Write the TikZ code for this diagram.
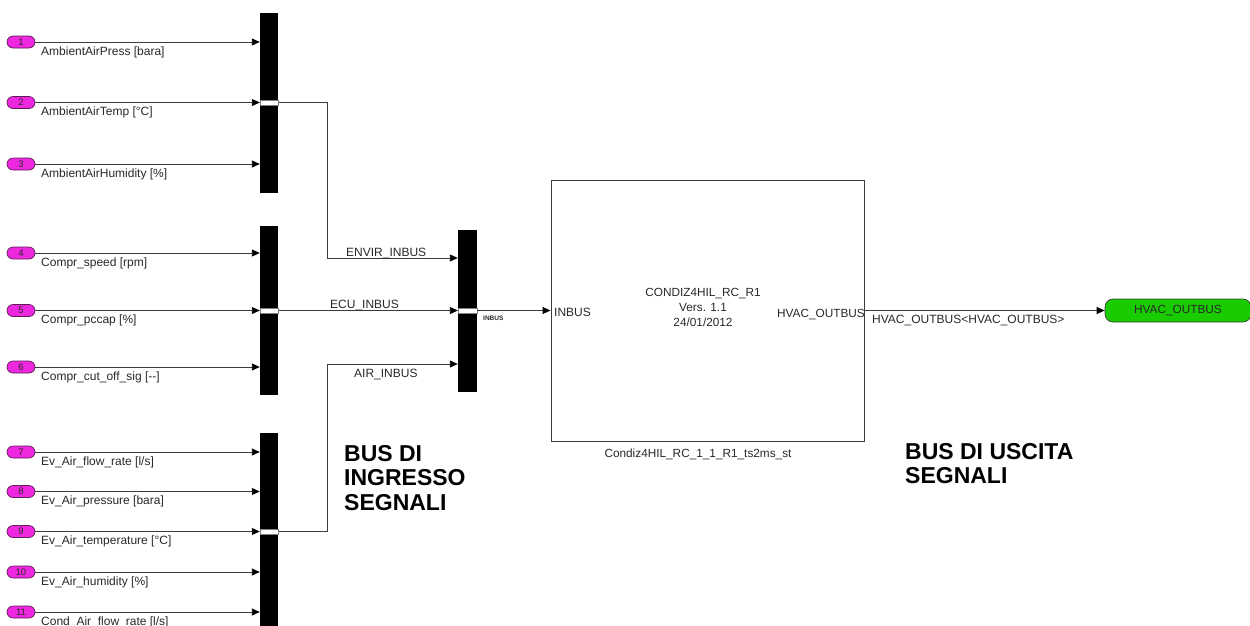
\documentclass[tikz,border=0pt]{standalone}
\usepackage{fontspec}
\setmainfont{Liberation Sans}
\usetikzlibrary{arrows.meta}
\definecolor{inportfill}{RGB}{238,40,222}
\definecolor{inportedge}{RGB}{90,30,85}
\definecolor{gotofill}{RGB}{24,204,0}
\definecolor{wirecol}{RGB}{60,60,60}
\definecolor{txt}{RGB}{40,40,40}
\begin{document}
\begin{tikzpicture}[x=1pt,y=-1pt,
  sig/.style={draw=wirecol,line width=0.9pt,-{Triangle[length=8pt,width=7pt,color=black]}},
  plainwire/.style={draw=wirecol,line width=0.9pt},
  inport/.style={draw=inportedge,fill=inportfill,line width=0.7pt,rounded corners=6pt,minimum width=28pt,minimum height=12pt,inner sep=0pt,font=\fontsize{9.5}{10}\selectfont,text=txt},
  busbar/.style={fill=black,draw=none,minimum width=18pt,inner sep=0pt},
  jn/.style={fill=white,draw=gray,line width=0.8pt,minimum width=18pt,minimum height=5pt,inner sep=0pt},
  lbl/.style={anchor=base west,font=\fontsize{12}{13}\selectfont,text=txt,inner sep=0pt},
  lblc/.style={anchor=base,font=\fontsize{11.8}{13}\selectfont,text=txt,inner sep=0pt},
  lble/.style={anchor=base east,font=\fontsize{11.8}{13}\selectfont,text=txt,inner sep=0pt},
  big/.style={anchor=base west,font=\fontsize{23}{24}\selectfont\bfseries,text=black,inner sep=0pt}
]
\useasboundingbox (0,0) rectangle (1250,625);

% bus creator bars
\node[busbar,minimum height=180pt] (bar1) at (269,103) {};
\node[busbar,minimum height=169pt] (bar2) at (269,310.5) {};
\node[busbar,minimum height=212pt] (bar3) at (269,539) {};
\node[busbar,minimum width=19pt,minimum height=162pt] (bus) at (467.5,310.5) {};

% inports
\node[inport] (p1) at (21,42) {1};
\node[inport] (p2) at (21,102.5) {2};
\node[inport] (p3) at (21,164) {3};
\node[inport] (p4) at (21,253) {4};
\node[inport] (p5) at (21,310.5) {5};
\node[inport] (p6) at (21,367) {6};
\node[inport] (p7) at (21,452) {7};
\node[inport] (p8) at (21,491.5) {8};
\node[inport] (p9) at (21,531.5) {9};
\node[inport] (p10) at (21,572) {10};
\node[inport] (p11) at (21,612) {11};

\foreach \i/\b in {1/bar1,2/bar1,3/bar1,4/bar2,5/bar2,6/bar2,7/bar3,8/bar3,9/bar3,10/bar3,11/bar3}
  \draw[sig] (p\i.east) -- (\b.west |- p\i);

% signal names
\node[lbl] (l1) at (41,55) {AmbientAirPress [bara]};
\node[lbl] (l2) at (41,115.5) {AmbientAirTemp [°C]};
\node[lbl] (l3) at (41,177) {AmbientAirHumidity [\%]};
\node[lbl] (l4) at (41,266) {Compr\_speed [rpm]};
\node[lbl] (l5) at (41,323.5) {Compr\_pccap [\%]};
\node[lbl] (l6) at (41,380) {Compr\_cut\_off\_sig [-{}-]};
\node[lbl] (l7) at (41,465) {Ev\_Air\_flow\_rate [l/s]};
\node[lbl] (l8) at (41,504.5) {Ev\_Air\_pressure [bara]};
\node[lbl] (l9) at (41,544.5) {Ev\_Air\_temperature [°C]};
\node[lbl] (l10) at (41,585) {Ev\_Air\_humidity [\%]};
\node[lbl] (l11) at (41,625) {Cond\_Air\_flow\_rate [l/s]};

% bus connections
\coordinate (k1) at (327,258);
\coordinate (k2) at (327,364);
\draw[plainwire] (bar1.east |- p2) -| (k1);
\draw[sig] (k1) -- (bus.west |- k1);
\draw[sig] (bar2.east |- p5) -- (bus.west |- p5);
\draw[plainwire] (bar3.east |- p9) -| (k2);
\draw[sig] (k2) -- (bus.west |- k2);

\node[jn] (j1) at (bar1.center |- p2) {};
\node[jn] (j2) at (bar2.center |- p5) {};
\node[jn] (j3) at (bar3.center |- p9) {};
\node[jn,minimum width=19pt] (j4) at (bus.center) {};

\node[lbl] (envir) at (346,256) {ENVIR\_INBUS};
\node[lbl] (ecu) at (330,308) {ECU\_INBUS};
\node[lbl] (air) at (354,377) {AIR\_INBUS};

% main block
\node[draw=wirecol,line width=0.9pt,minimum width=313pt,minimum height=261pt,inner sep=0pt] (blk) at (707.5,310.5) {};
\draw[sig] (bus.east) -- (blk.west);
\node[anchor=base west,font=\fontsize{6.5}{7}\selectfont\bfseries,text=txt,inner sep=0pt] (inbuslbl) at (483,320) {INBUS};

\node[lbl] (pin) at (554,316) {INBUS};
\node[lble] (pout) at (865,317) {HVAC\_OUTBUS};
\node[lblc] (t1) at (703,296) {CONDIZ4HIL\_RC\_R1};
\node[lblc] (t2) at (703,311) {Vers. 1.1};
\node[lblc] (t3) at (703,326) {24/01/2012};
\node[lblc] (bname) at (698,457) {Condiz4HIL\_RC\_1\_1\_R1\_ts2ms\_st};

% goto
\node[draw=wirecol,fill=gotofill,line width=0.7pt,rounded corners=8pt,minimum width=146pt,minimum height=23pt,inner sep=0pt,font=\fontsize{11.8}{13}\selectfont,text=txt] (goto) at (1178,310.5) {HVAC\_OUTBUS};
\draw[sig] (blk.east) -- (goto.west);
\node[lbl] (olbl) at (872,323) {HVAC\_OUTBUS<HVAC\_OUTBUS>};

% annotations
\node[big] (a1) at (344,461) {BUS DI};
\node[big] (a2) at (344,485.5) {INGRESSO};
\node[big] (a3) at (344,510) {SEGNALI};
\node[big] (b1) at (905,459) {BUS DI USCITA};
\node[big] (b2) at (905,483.5) {SEGNALI};
\end{tikzpicture}
\end{document}
